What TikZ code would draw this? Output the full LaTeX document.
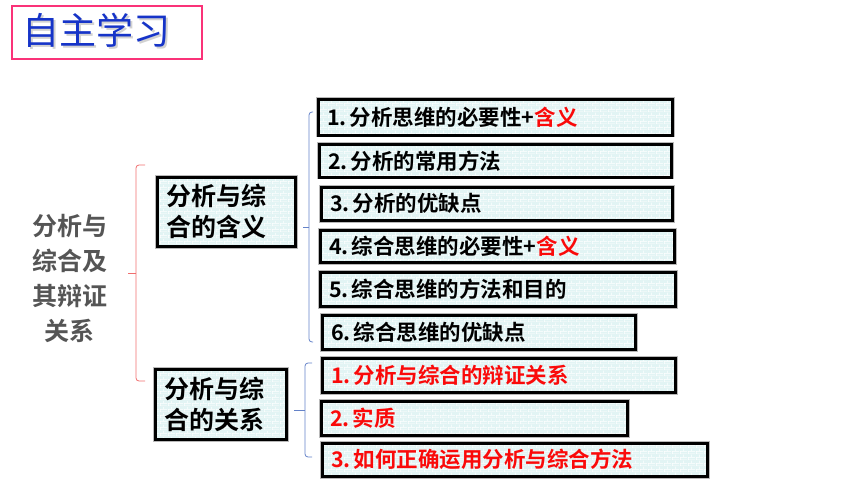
\documentclass[tikz,border=0pt]{standalone}
\usepackage{fontspec}
\setmainfont{Noto Sans CJK SC Bold}
\newfontfamily\titlefont{Noto Sans CJK SC}
\usetikzlibrary{patterns}

\definecolor{titleblue}{RGB}{22,52,200}
\definecolor{titlepink}{RGB}{250,50,120}
\definecolor{labelgray}{RGB}{85,85,85}
\definecolor{boxfill}{RGB}{226,244,244}
\definecolor{hl}{RGB}{250,10,10}
\definecolor{bracered}{RGB}{240,110,110}
\definecolor{braceblue}{RGB}{100,130,200}

% small brick texture of the boxes
\pgfdeclarepatternformonly{tinybricks}{\pgfpointorigin}{\pgfpoint{8pt}{6pt}}{\pgfpoint{8pt}{6pt}}{
	\pgfsetlinewidth{0.6pt}
	\pgfpathmoveto{\pgfpoint{0pt}{0pt}}\pgfpathlineto{\pgfpoint{8pt}{0pt}}
	\pgfpathmoveto{\pgfpoint{0pt}{3pt}}\pgfpathlineto{\pgfpoint{8pt}{3pt}}
	\pgfpathmoveto{\pgfpoint{0.3pt}{0pt}}\pgfpathlineto{\pgfpoint{0.3pt}{3pt}}
	\pgfpathmoveto{\pgfpoint{4pt}{3pt}}\pgfpathlineto{\pgfpoint{4pt}{6pt}}
	\pgfusepath{stroke}
}
\newcommand{\num}[1]{#1.\hspace{3pt}}

\begin{document}
\begin{tikzpicture}[x=1pt,y=-1pt,
	item/.style={preaction={draw=gray!55,line width=4.4pt},preaction={fill=boxfill},
		preaction={pattern=tinybricks,pattern color=white},draw=black,line width=2.6pt,
		inner xsep=9pt,inner ysep=0pt,anchor=north west,align=left,
		font=\fontsize{21.5}{24}\selectfont},
	group/.style={item,font=\fontsize{25}{31}\selectfont},
	brace/.style={line width=0.8pt,rounded corners=3pt}]
	\useasboundingbox (0,0) rectangle (860,484);

	% title
	\node[draw=titlepink,line width=2pt,minimum width=190,minimum height=53,anchor=north west] (title) at (11,5) {};
	\node[font=\titlefont\fontsize{37}{37}\selectfont,text=gray!35,inner sep=0pt,anchor=west] (titleshadow) at (24,32.5) {自主学习};
	\node[font=\titlefont\fontsize{37}{37}\selectfont,text=titleblue,inner sep=0pt,anchor=west] (titletext) at (22,30.5) {自主学习};

	\node[font=\fontsize{25}{35}\selectfont,text=labelgray,align=center] (topic) at (70,278) {分析与\\综合及\\其辩证\\关系};

	\node[group,minimum height=69,text width=120] (hanyi) at (156,176) {分析与综\\合的含义};
	\node[group,minimum height=70,text width=113] (guanxi) at (154,368) {分析与综\\合的关系};

	\foreach[evaluate=\r as \tw using {\r-\l-22}] \n/\l/\t/\r/\b/\txt in {
		a1/315/96/673/136/{\num1分析思维的必要性+\textcolor{hl}{含义}},
		a2/316/141/672/178/{\num2分析的常用方法},
		a3/318/184/673/221/{\num3分析的优缺点},
		a4/317/227/675/263/{\num4综合思维的必要性+\textcolor{hl}{含义}},
		a5/317/269/676/307/{\num5综合思维的方法和目的},
		a6/319/312/636/350/{\num6综合思维的优缺点},
		b1/319/355/676/393/{\textcolor{hl}{\num1分析与综合的辩证关系}},
		b2/318/398/628/436/{\textcolor{hl}{\num2实质}},
		b3/319/440/708/477/{\textcolor{hl}{\num3如何正确运用分析与综合方法}}}
		\node[item,minimum height=\b-\t-4,text width=\tw pt] (\n) at (\l+2,\t+2) {\txt};

	% braces
	\draw[brace,bracered] (145,165) -- (136,165) -- (136,381) -- (145,381);
	\draw[brace,bracered] (136,273) -- (128,273);
	\draw[brace,braceblue] (313,112) -- (309,112) -- (309,342) -- (313,342);
	\draw[brace,braceblue] (309,227) -- (303,227);
	\draw[brace,braceblue] (312,363) -- (305,363) -- (305,457) -- (312,457);
	\draw[brace,braceblue] (305,410) -- (294,410);
\end{tikzpicture}
\end{document}
